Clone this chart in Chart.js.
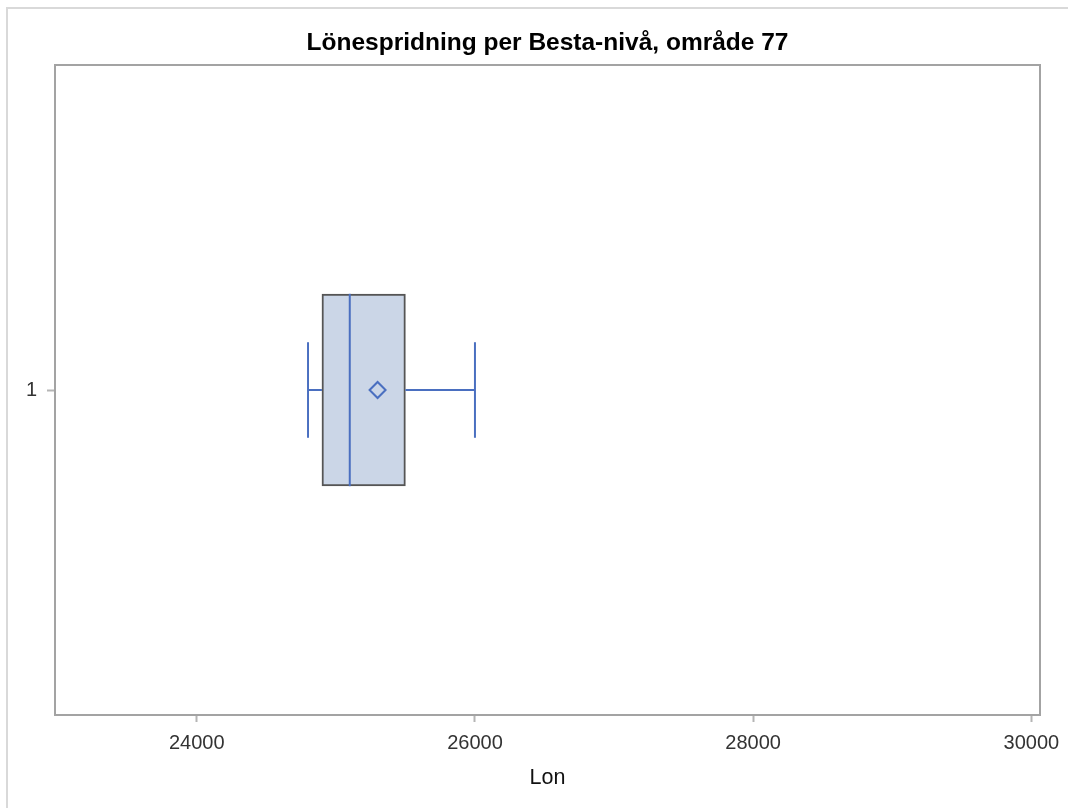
<!DOCTYPE html>
<html>
<head>
<meta charset="utf-8">
<script src="https://cdn.jsdelivr.net/npm/chart.js@4/dist/chart.umd.min.js"></script>
<style>
html,body{margin:0;padding:0;background:#fff;}
#wrap{width:1068px;height:808px;position:relative;}
canvas{display:block;}
</style>
</head>
<body>
<div id="wrap"><canvas id="c" width="1068" height="808"></canvas></div>
<script>
// ---- data ----
const CHART_TITLE = 'Lönespridning per Besta-nivå, område 77';
const X_TITLE = 'Lon';
const CATEGORIES = ['1'];
const CATEGORY_POS = [1];
const WHISKER_MIN = [24800];
const Q1 = [24900];
const MEDIAN = [25100];
const MEAN = [25300];
const Q3 = [25500];
const WHISKER_MAX = [26000];
const X_TICKS = [24000, 26000, 28000, 30000];
const X_MIN = 22981;
const X_MAX = 30062;
const Y_MIN = 0;
const Y_MAX = 2;

// ---- style ----
const BLUE = '#4a6fc0';
const BOX_FILL = '#cbd6e7';
const BOX_EDGE = '#555555';
const FRAME = '#a3a3a3';
const FONT = "'Liberation Sans', Arial, Helvetica, sans-serif";
const BOX_HALF = 0.296;   // half box height in y-axis units
const CAP_HALF = 0.147;   // half whisker cap height in y-axis units

const datasets = [];
CATEGORY_POS.forEach((y, i) => {
  datasets.push({
    type: 'bar', order: 5,
    data: [{x: [Q1[i], Q3[i]], y: y}],
    backgroundColor: BOX_FILL, borderColor: BOX_EDGE, borderWidth: 2,
    borderSkipped: false, barThickness: 192
  });
  const lineStyle = {type: 'line', order: 1, borderColor: BLUE, borderWidth: 2,
                     pointRadius: 0, fill: false, tension: 0};
  datasets.push(Object.assign({}, lineStyle, {data: [{x: WHISKER_MIN[i], y: y}, {x: Q1[i], y: y}]}));
  datasets.push(Object.assign({}, lineStyle, {data: [{x: WHISKER_MIN[i], y: y - CAP_HALF}, {x: WHISKER_MIN[i], y: y + CAP_HALF}]}));
  datasets.push(Object.assign({}, lineStyle, {data: [{x: Q3[i], y: y}, {x: WHISKER_MAX[i], y: y}]}));
  datasets.push(Object.assign({}, lineStyle, {data: [{x: WHISKER_MAX[i], y: y - CAP_HALF}, {x: WHISKER_MAX[i], y: y + CAP_HALF}]}));
  datasets.push(Object.assign({}, lineStyle, {data: [{x: MEDIAN[i], y: y - BOX_HALF}, {x: MEDIAN[i], y: y + BOX_HALF}]}));
  datasets.push({
    type: 'line', order: 0, showLine: false,
    data: [{x: MEAN[i], y: y}],
    pointStyle: 'rectRot', pointRadius: 8, pointBorderWidth: 2,
    pointBorderColor: BLUE, pointBackgroundColor: 'rgba(0,0,0,0)'
  });
});

const framePlugin = {
  id: 'frame',
  beforeDraw(chart) {
    const c = chart.ctx;
    c.save();
    c.fillStyle = '#ffffff';
    c.fillRect(0, 0, chart.width, chart.height);
    c.strokeStyle = '#d9d9d9';
    c.lineWidth = 2;
    c.beginPath();
    c.moveTo(7, chart.height);
    c.lineTo(7, 8);
    c.lineTo(chart.width, 8);
    c.stroke();
    c.restore();
  },
  afterDraw(chart) {
    const a = chart.chartArea, c = chart.ctx;
    c.save();
    c.strokeStyle = FRAME;
    c.lineWidth = 2;
    c.strokeRect(a.left, a.top, a.right - a.left, a.bottom - a.top);
    c.restore();
  }
};

new Chart(document.getElementById('c'), {
  type: 'bar',
  data: {datasets: datasets},
  plugins: [framePlugin],
  options: {
    indexAxis: 'y',
    responsive: false,
    animation: false,
    devicePixelRatio: 1,
    events: [],
    layout: {padding: {left: 0, right: 28, top: 0, bottom: 0}},
    plugins: {
      legend: {display: false},
      tooltip: {enabled: false},
      title: {
        display: true, text: CHART_TITLE, fullSize: false,
        color: '#000', font: {family: FONT, size: 24.5, weight: 'bold'},
        padding: {top: 28.6, bottom: 7}
      }
    },
    scales: {
      x: {
        type: 'linear', min: X_MIN, max: X_MAX, position: 'bottom', offset: false,
        border: {display: false},
        grid: {display: true, drawOnChartArea: false, drawTicks: true, offset: false,
               tickLength: 7, tickColor: '#b5b5b5', tickWidth: 2},
        ticks: {color: '#333', font: {family: FONT, size: 20}, padding: 9,
                maxRotation: 0, callback: v => String(v)},
        afterBuildTicks: s => { s.ticks = X_TICKS.map(v => ({value: v})); },
        afterFit: s => { s.height = 93; s.paddingLeft = 0; s.paddingRight = 0; },
        title: {display: true, text: X_TITLE, color: '#111',
                font: {family: FONT, size: 21.5}, padding: {top: 0, bottom: 17}}
      },
      y: {
        type: 'linear', min: Y_MIN, max: Y_MAX, position: 'left', offset: false,
        border: {display: false},
        grid: {display: true, drawOnChartArea: false, drawTicks: true, offset: false,
               tickLength: 8, tickColor: '#b5b5b5', tickWidth: 2},
        ticks: {color: '#333', font: {family: FONT, size: 20}, padding: 10,
                callback: v => CATEGORIES[CATEGORY_POS.indexOf(v)]},
        afterBuildTicks: s => { s.ticks = CATEGORY_POS.map(v => ({value: v})); },
        afterFit: s => { s.width = 55; s.paddingTop = 0; s.paddingBottom = 0; }
      }
    }
  }
});
</script>
</body>
</html>
